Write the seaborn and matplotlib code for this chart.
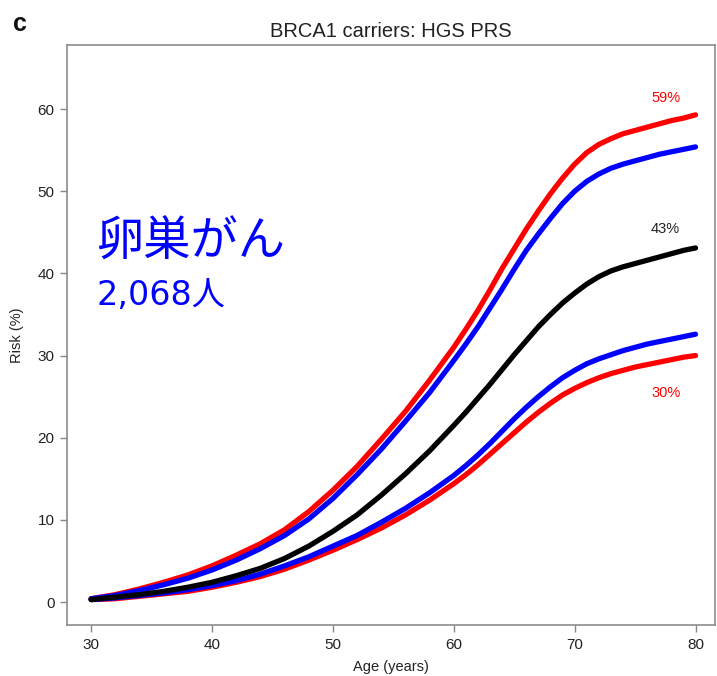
import matplotlib
matplotlib.use("Agg")
import matplotlib.pyplot as plt
import seaborn as sns
import pandas as pd

ages = [30, 32, 34, 36, 38, 40, 42, 44, 46, 48, 50, 52, 54, 56, 58,
        60, 61, 62, 63, 64, 65, 66, 67, 68, 69, 70,
        71, 72, 73, 74, 75, 76, 77, 78, 79, 80]

risk_top = [0.4, 0.9, 1.6, 2.4, 3.3, 4.4, 5.7, 7.1, 8.8, 11.0, 13.6, 16.5, 19.8, 23.2, 27.0,
            31.0, 33.2, 35.5, 38.0, 40.6, 43.0, 45.4, 47.6, 49.7, 51.6, 53.3,
            54.7, 55.7, 56.4, 57.0, 57.4, 57.8, 58.2, 58.6, 58.9, 59.3]
risk_upper = [0.4, 0.8, 1.4, 2.1, 2.9, 3.9, 5.1, 6.5, 8.1, 10.1, 12.6, 15.5, 18.6, 22.0, 25.5,
              29.4, 31.4, 33.5, 35.8, 38.1, 40.5, 42.8, 44.8, 46.7, 48.5, 50.0,
              51.2, 52.1, 52.8, 53.3, 53.7, 54.1, 54.5, 54.8, 55.1, 55.4]
risk_median = [0.3, 0.6, 0.9, 1.3, 1.8, 2.4, 3.2, 4.1, 5.3, 6.8, 8.6, 10.6, 13.0, 15.6, 18.4,
               21.5, 23.1, 24.8, 26.5, 28.3, 30.1, 31.8, 33.5, 35.0, 36.4, 37.6,
               38.7, 39.6, 40.3, 40.8, 41.2, 41.6, 42.0, 42.4, 42.8, 43.1]
risk_lower = [0.3, 0.5, 0.8, 1.1, 1.5, 2.0, 2.6, 3.4, 4.4, 5.5, 6.8, 8.1, 9.7, 11.4, 13.3,
              15.4, 16.6, 17.9, 19.3, 20.8, 22.3, 23.7, 25.0, 26.2, 27.3, 28.2,
              29.0, 29.6, 30.1, 30.6, 31.0, 31.4, 31.7, 32.0, 32.3, 32.6]
risk_bottom = [0.3, 0.4, 0.7, 1.0, 1.3, 1.8, 2.4, 3.1, 4.0, 5.1, 6.3, 7.6, 9.0, 10.6, 12.4,
               14.4, 15.5, 16.7, 18.0, 19.3, 20.6, 21.9, 23.1, 24.2, 25.2, 26.0,
               26.7, 27.3, 27.8, 28.2, 28.6, 28.9, 29.2, 29.5, 29.8, 30.0]

series_names = ["top", "bottom", "upper", "lower", "median"]
series_values = [risk_top, risk_bottom, risk_upper, risk_lower, risk_median]
series_colors = {"top": "#ff0000", "bottom": "#ff0000", "upper": "#0000ff",
                 "lower": "#0000ff", "median": "#000000"}

end_labels = ["59%", "43%", "30%"]
end_label_pos = [(77.6, 61.4), (77.5, 45.4), (77.6, 25.4)]
end_label_colors = ["#ff0000", "#222222", "#ff0000"]

title = "BRCA1 carriers: HGS PRS"
note_main = "卵巣がん"
note_count = "2,068人"

frames = []
for name, vals in zip(series_names, series_values):
    frames.append(pd.DataFrame({"Age": ages, "Risk": vals, "series": name}))
df = pd.concat(frames, ignore_index=True)

sns.set_theme(style="white")
plt.rcParams["font.family"] = ["Liberation Sans", "DejaVu Sans"]

fig = plt.figure(figsize=(7.17, 6.76), dpi=100)
ax = fig.add_axes([0.0934, 0.0754, 0.9036, 0.858])

sns.lineplot(data=df, x="Age", y="Risk", hue="series", hue_order=series_names,
             palette=series_colors, linewidth=3.8, legend=False, ax=ax,
             solid_capstyle="round", solid_joinstyle="round")

ax.set_xlim(28.0, 81.6)
ax.set_ylim(-2.8, 67.8)
ax.set_xticks([30, 40, 50, 60, 70, 80])
ax.set_yticks([0, 10, 20, 30, 40, 50, 60])
ax.tick_params(axis="both", direction="out", length=5, width=1.0, color="#888888",
               labelsize=11, labelcolor="#222222", pad=4, left=True, bottom=True)

for s in ax.spines.values():
    s.set_color("#8c8c8c")
    s.set_linewidth(1.2)
    s.set_visible(True)

ax.set_xlabel("Age (years)", fontsize=10.5, color="#222222", labelpad=6)
ax.set_ylabel("Risk (%)", fontsize=10.5, color="#222222", labelpad=10)
ax.set_title(title, fontsize=14.5, color="#222222", pad=6)

for txt, (xx, yy), col in zip(end_labels, end_label_pos, end_label_colors):
    ax.text(xx, yy, txt, color=col, fontsize=10.5, ha="center", va="center")

ax.text(0.045, 0.659, note_main, transform=ax.transAxes, color="#0000ff",
        fontsize=34, family=["Noto Sans CJK JP", "DejaVu Sans"], ha="left", va="center")
ax.text(0.045, 0.569, note_count, transform=ax.transAxes, color="#0000ff",
        fontsize=24, family=["DejaVu Sans", "Noto Sans CJK JP"], ha="left", va="center")

fig.text(0.018, 0.965, "c", fontsize=18, fontweight="bold", color="#111111",
         ha="left", va="center")

fig.savefig("out.png", dpi=100)
